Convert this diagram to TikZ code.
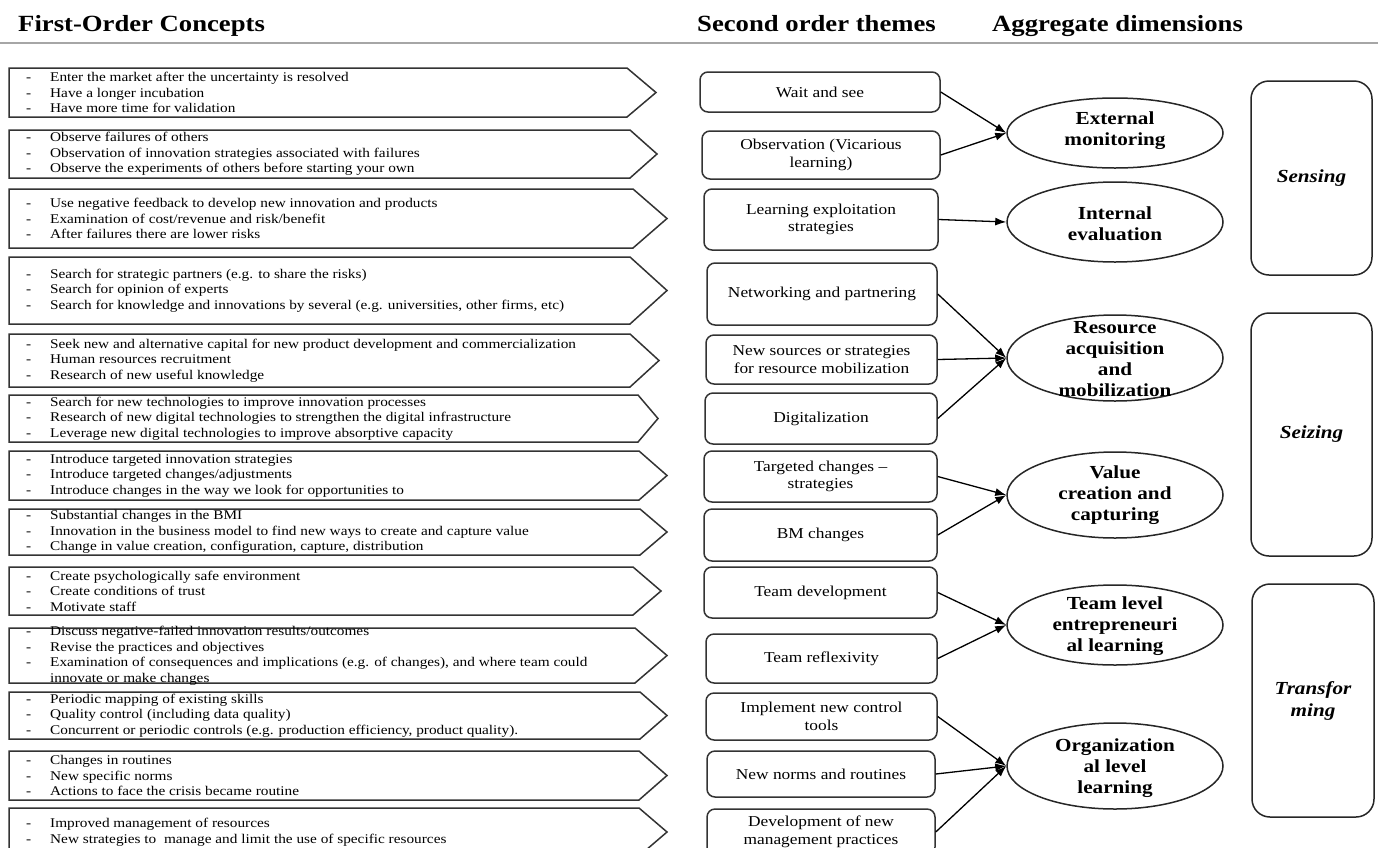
\documentclass[tikz,border=0pt]{standalone}
\usepackage{fontspec}
\setmainfont{Liberation Serif}[FakeStretch=1.15]
\usetikzlibrary{shapes.geometric,arrows.meta}
\newcommand\dd{\makebox[24pt][l]{-}}
\newcommand\nd{\makebox[24pt][l]{}}
% name, top, bottom, corner x, tip x, text
\newcommand\fo[6]{%
  \draw[fobox] (9,#2) -- (#4,#2) -- (#5,{(#2+#3)/2}) -- (#4,#3) -- (9,#3) -- cycle;
  \node[fotext] (#1) at (26,{(#2+#3)/2}) {#6};
}
\begin{document}
\begin{tikzpicture}[x=1pt,y=-1pt,
  fobox/.style={draw=black!80, line width=1.5pt, line join=miter},
  fotext/.style={anchor=west, inner sep=0pt, align=left, font=\fontsize{13.3}{15.5}\selectfont},
  sobox/.style={draw=black!80, line width=1.5pt, rounded corners=8pt, align=center, inner sep=0pt, font=\fontsize{15.1}{17.5}\selectfont},
  ell/.style={ellipse, draw=black!85, line width=1.5pt, inner sep=0pt, minimum width=216pt},
  elltext/.style={align=center, inner sep=0pt, font=\bfseries\fontsize{18.4}{21}\selectfont},
  dimbox/.style={draw=black!85, line width=1.5pt, rounded corners=18pt, align=center, inner sep=0pt, font=\bfseries\itshape\fontsize{18.4}{22}\selectfont},
  conn/.style={line width=1.3pt, -{Latex[length=11pt,width=8pt]}},
  head/.style={anchor=base west, inner sep=0pt, font=\bfseries\fontsize{23.2}{26}\selectfont}
]
\useasboundingbox (0,0) rectangle (1378,847);
\clip (0,0) rectangle (1378,847);
\fill[white] (0,0) rectangle (1378,847);

% headers
\node[head] (h1) at (18,31) {First-Order Concepts};
\node[head] (h2) at (697,31) {Second order themes};
\node[head] (h3) at (992,31) {Aggregate dimensions};
\draw[gray!70, line width=1.5pt] (0,43) -- (1378,43);

% first-order concepts
\fo{f1}{68}{117}{627}{656}{\dd Enter the market after the uncertainty is resolved\\\dd Have a longer incubation\\\dd Have more time for validation}
\fo{f2}{130}{178}{630}{657}{\dd Observe failures of others\\\dd Observation of innovation strategies associated with failures\\\dd Observe the experiments of others before starting your own}
\fo{f3}{189}{248}{633}{667}{\dd Use negative feedback to develop new innovation and products\\\dd Examination of cost/revenue and risk/benefit\\\dd After failures there are lower risks}
\fo{f4}{257}{324}{630}{667}{\dd Search for strategic partners (e.g. to share the risks)\\\dd Search for opinion of experts\\\dd Search for knowledge and innovations by several (e.g. universities, other firms, etc)}
\fo{f5}{334}{387}{630}{659}{\dd Seek new and alternative capital for new product development and commercialization\\\dd Human resources recruitment\\\dd Research of new useful knowledge}
\fo{f6}{395}{442}{638}{658}{\dd Search for new technologies to improve innovation processes\\\dd Research of new digital technologies to strengthen the digital infrastructure\\\dd Leverage new digital technologies to improve absorptive capacity}
\fo{f7}{451}{500}{639}{667}{\dd Introduce targeted innovation strategies\\\dd Introduce targeted changes/adjustments\\\dd Introduce changes in the way we look for opportunities to}
\fo{f8}{509}{555}{640}{667}{\dd Substantial changes in the BMI\\\dd Innovation in the business model to find new ways to create and capture value\\\dd Change in value creation, configuration, capture, distribution}
\fo{f9}{567}{615}{633}{661}{\dd Create psychologically safe environment\\\dd Create conditions of trust\\\dd Motivate staff}
\fo{f10}{628}{683}{635}{667}{\dd Discuss negative-failed innovation results/outcomes\\\dd Revise the practices and objectives\\\dd Examination of consequences and implications (e.g. of changes), and where team could\\\nd innovate or make changes}
\fo{f11}{692}{739}{640}{667}{\dd Periodic mapping of existing skills\\\dd Quality control (including data quality)\\\dd Concurrent or periodic controls (e.g. production efficiency, product quality).}
\fo{f12}{751}{800}{639}{667}{\dd Changes in routines\\\dd New specific norms\\\dd Actions to face the crisis became routine}
\fo{f13}{808}{856}{639}{667}{\dd Improved management of resources\\\dd New strategies to\ \ manage and limit the use of specific resources}

% second order themes
\node[sobox, minimum width=240pt, minimum height=40pt] (s1) at (820,92) {Wait and see};
\node[sobox, minimum width=238pt, minimum height=48pt] (s2) at (821,155) {Observation (Vicarious\\learning)};
\node[sobox, minimum width=234pt, minimum height=61pt] (s3) at (821,219.5) {Learning exploitation\\strategies};
\node[sobox, minimum width=230pt, minimum height=62pt] (s4) at (822,294) {Networking and partnering};
\node[sobox, minimum width=231pt, minimum height=49pt] (s5) at (821.5,359.5) {New sources or strategies\\for resource mobilization};
\node[sobox, minimum width=232pt, minimum height=51pt] (s6) at (821,418.5) {Digitalization};
\node[sobox, minimum width=233pt, minimum height=51pt] (s7) at (820.5,476.5) {Targeted changes --\\strategies};
\node[sobox, minimum width=233pt, minimum height=52pt] (s8) at (820.5,535) {BM changes};
\node[sobox, minimum width=233pt, minimum height=51pt] (s9) at (820.5,592.5) {Team development};
\node[sobox, minimum width=231pt, minimum height=49pt] (s10) at (821.5,658.5) {Team reflexivity};
\node[sobox, minimum width=231pt, minimum height=47pt] (s11) at (821.5,716.5) {Implement new control\\tools};
\node[sobox, minimum width=228pt, minimum height=46pt] (s12) at (821,774) {New norms and routines};
\node[sobox, minimum width=228pt, minimum height=46pt] (s13) at (821,832) {Development of new\\management practices};

% aggregate ellipses
\node[ell, minimum height=70pt] (e1) at (1115,133) {};
\node[elltext] (e1t) at (1115,131) {External\\monitoring};
\node[ell, minimum height=80pt] (e2) at (1115,222) {};
\node[elltext] (e2t) at (1115,224) {Internal\\evaluation};
\node[ell, minimum height=86pt] (e3) at (1115,358) {};
\node[elltext] (e3t) at (1115,359) {Resource\\acquisition\\and\\mobilization};
\node[ell, minimum height=86pt] (e4) at (1115,495) {};
\node[elltext] (e4t) at (1115,495) {Value\\creation and\\capturing};
\node[ell, minimum height=80pt] (e5) at (1115,625) {};
\node[elltext] (e5t) at (1115,626) {Team level\\entrepreneuri\\al learning};
\node[ell, minimum height=86pt] (e6) at (1115,766) {};
\node[elltext] (e6t) at (1115,768) {Organization\\al level\\learning};

% dimension boxes
\node[dimbox, minimum width=121pt, minimum height=194pt] (d1) at (1311.5,178) {Sensing};
\node[dimbox, minimum width=121pt, minimum height=243pt] (d2) at (1311.5,434.5) {Seizing};
\node[dimbox, minimum width=122pt, minimum height=233pt] (d3) at (1313,700.5) {Transfor\\ming};

% connectors
\draw[conn] (s1.east) -- (e1.west);
\draw[conn] (s2.east) -- (e1.west);
\draw[conn] (s3.east) -- (e2.west);
\draw[conn] (s4.east) -- (e3.west);
\draw[conn] (s5.east) -- (e3.west);
\draw[conn] (s6.east) -- (e3.west);
\draw[conn] (s7.east) -- (e4.west);
\draw[conn] (s8.east) -- (e4.west);
\draw[conn] (s9.east) -- (e5.west);
\draw[conn] (s10.east) -- (e5.west);
\draw[conn] (s11.east) -- (e6.west);
\draw[conn] (s12.east) -- (e6.west);
\draw[conn] (s13.east) -- (e6.west);
\end{tikzpicture}
\end{document}
